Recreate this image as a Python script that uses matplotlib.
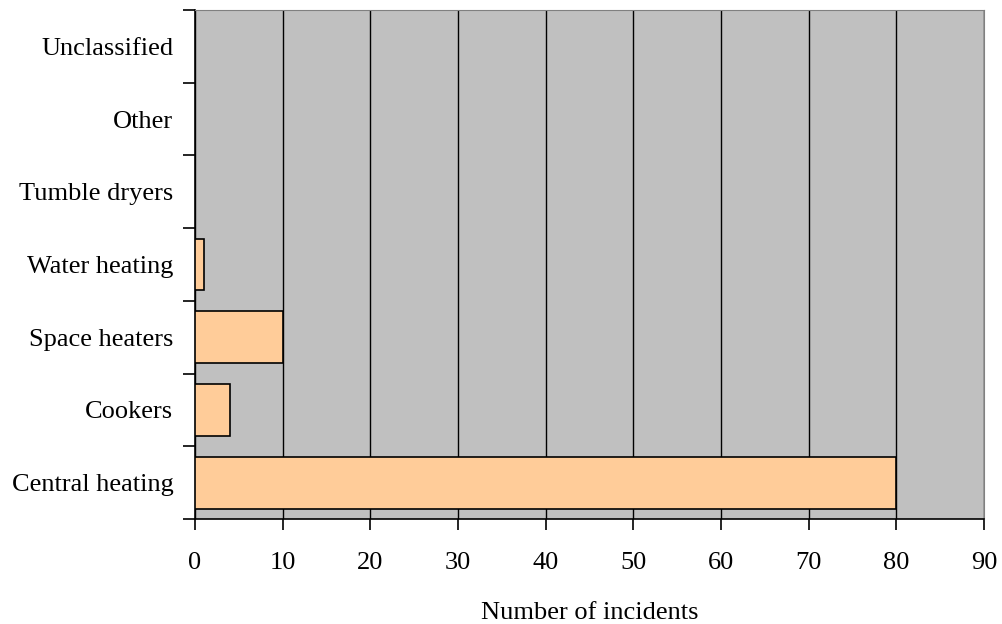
import matplotlib.pyplot as plt
import numpy as np

categories = ['Central heating', 'Cookers', 'Space heaters', 'Water heating',
              'Tumble dryers', 'Other', 'Unclassified']
incidents = [80, 4, 10, 1, 0, 0, 0]
xticks = [0, 10, 20, 30, 40, 50, 60, 70, 80, 90]

plt.rcParams['font.family'] = ['Liberation Serif', 'DejaVu Serif']

fig = plt.figure(figsize=(10.02, 6.24), dpi=100)
ax = fig.add_axes([195/1002, 1 - 519/624, (984 - 195)/1002, (519 - 10)/624])
ax.set_facecolor('#C0C0C0')

y = np.arange(len(categories))
ax.barh(y, incidents, height=0.714, color='#FFCC99', edgecolor='black',
        linewidth=1.2, zorder=3)

ax.set_xlim(0, 90)
ax.set_ylim(-0.5, len(categories) - 0.5)
ax.set_xticks(xticks)
ax.set_xticklabels([str(v) for v in xticks], fontsize=19)
ax.xaxis.grid(True, color='black', linewidth=1.0, zorder=1)
ax.set_axisbelow(True)

# category labels centred, tick marks on the boundaries
ax.set_yticks(y)
ax.set_yticklabels(categories, fontsize=19)
ax.tick_params(axis='y', which='major', length=0, pad=15.5)
ax.set_yticks(np.arange(-0.5, len(categories), 1), minor=True)
ax.tick_params(axis='y', which='minor', length=9, width=1.2, color='black')
ax.tick_params(axis='x', length=8, width=1.2, pad=16)

ax.spines['left'].set_color('black')
ax.spines['bottom'].set_color('black')
ax.spines['left'].set_linewidth(1.2)
ax.spines['bottom'].set_linewidth(1.2)
ax.spines['top'].set_color('#808080')
ax.spines['right'].set_color('#808080')

ax.set_xlabel('Number of incidents', fontsize=19, labelpad=20)

fig.savefig('out.png', dpi=100)
